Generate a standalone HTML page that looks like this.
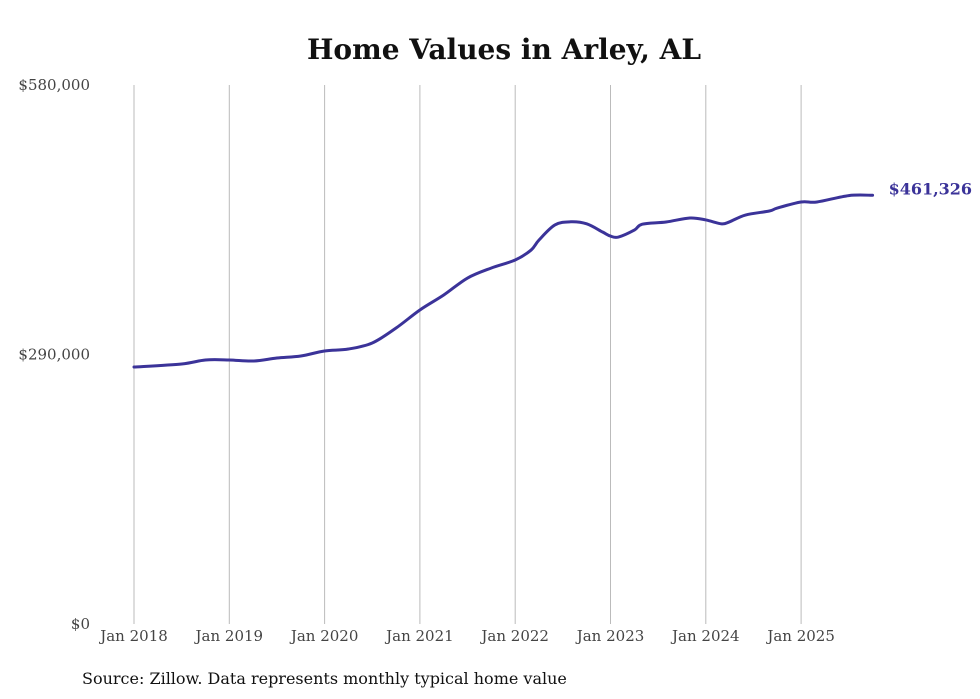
<!DOCTYPE html>
<html><head><meta charset="utf-8"><style>
body{margin:0;background:#fff;}
svg{display:block;font-family:"DejaVu Serif","Liberation Serif",serif;}
</style></head><body>
<svg id="chart" width="980" height="699" viewBox="0 0 980 699">
<text x="504" y="59" text-anchor="middle" font-size="28" font-weight="bold" fill="#111">Home Values in Arley, AL</text>
<g id="grid"></g><g id="yticks"></g><g id="xticks"></g><g id="series"></g>
<text x="82" y="684" font-size="16" fill="#111">Source: Zillow. Data represents monthly typical home value</text>
</svg>
<script>
const monthIdx=[0,6,9,12,15,18,21,24,27,30,33,36,39,42,45,48,50,51,53,55,57,59,60,61,63,64,67,70,72,74,75,77,80,81,84,86,90,93];
const values=[276500,279800,284100,284100,283000,286200,288400,293800,295900,302400,318500,337900,354000,372300,383100,391700,402400,413200,429400,432800,430600,421800,417400,416400,423900,430200,432600,436900,434800,430600,432800,440100,444400,447600,454100,454100,461000,461326];
const yTicks=[0,290000,580000];
const yTickLabels=["$0","$290,000","$580,000"];
const xTickYears=[2018,2019,2020,2021,2022,2023,2024,2025];
const lastLabel="$461,326";
const NS="http://www.w3.org/2000/svg";
const x=m=>134+m*(95.3/12);
const y=v=>624-v/580000*539;
function mk(t,a,p){const e=document.createElementNS(NS,t);for(const k in a)e.setAttribute(k,a[k]);document.getElementById(p).appendChild(e);return e;}
xTickYears.forEach((yr,i)=>{
 const xx=x((yr-2018)*12);
 const l=mk('line',{x1:xx,x2:xx,y1:85,y2:624,stroke:'#bbb','stroke-width':1},'grid');
 
 
 const t=mk('text',{x:xx,y:641,'text-anchor':'middle','font-size':15,fill:'#444'},'xticks');
 t.textContent='Jan '+yr;
 
 
});
yTicks.forEach((v,i)=>{
 const t=mk('text',{x:90,y:y(v)+5,'text-anchor':'end','font-size':15,fill:'#444'},'yticks');
 t.textContent=yTickLabels[i];
 
 
});
const pts=monthIdx.map((m,i)=>[x(m),y(values[i])]);
let d='M'+pts[0][0]+','+pts[0][1];
for(let i=0;i<pts.length-1;i++){
 const p0=pts[Math.max(0,i-1)],p1=pts[i],p2=pts[i+1],p3=pts[Math.min(pts.length-1,i+2)];
 const c1=[p1[0]+(p2[0]-p0[0])/6,p1[1]+(p2[1]-p0[1])/6],c2=[p2[0]-(p3[0]-p1[0])/6,p2[1]-(p3[1]-p1[1])/6];
 d+=` C${c1[0]},${c1[1]} ${c2[0]},${c2[1]} ${p2[0]},${p2[1]}`;
}
const path=mk('path',{d:d,fill:'none',stroke:'#3b3399','stroke-width':3,'stroke-linejoin':'round','stroke-linecap':'round'},'series');


const last=pts[pts.length-1];
const lt=mk('text',{x:last[0]+16,y:last[1]+-1,'font-size':16,'font-weight':'bold',fill:'#3b3399'},'series');
lt.textContent=lastLabel;


</script>
</body></html>
